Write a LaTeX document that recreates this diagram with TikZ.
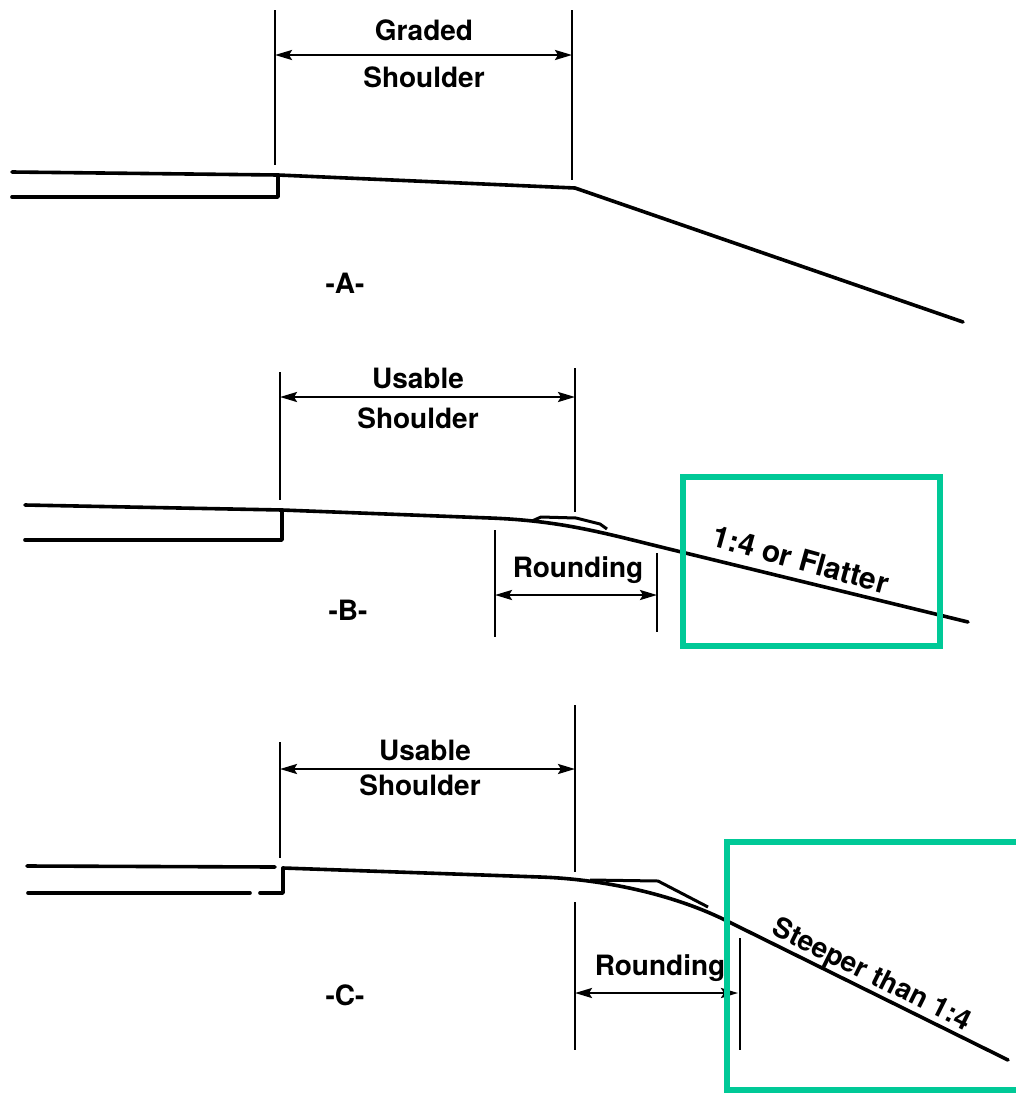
\documentclass[tikz,border=0pt]{standalone}
\usepackage{fontspec}
\setmainfont{TeX Gyre Heros}
\usetikzlibrary{arrows.meta}
\definecolor{boxgreen}{RGB}{0,201,151}
\begin{document}
\begin{tikzpicture}[x=1pt,y=-1pt,
  ground/.style={line width=3.6pt, line join=round, line cap=round},
  ext/.style={line width=2pt},
  dim/.style={line width=2.3pt, {Stealth[length=17pt,width=10pt,inset=3pt]}-{Stealth[length=17pt,width=10pt,inset=3pt]}},
  lbl/.style={font=\fontsize{28}{30}\selectfont\bfseries, inner sep=1pt},
  hl/.style={draw=boxgreen, line width=6pt}]
\useasboundingbox (0,0) rectangle (1016,1095);

% ---------------- A ----------------
\coordinate (a0) at (12,172);
\coordinate (a1) at (278,175);
\coordinate (a2) at (12,197);
\coordinate (a3) at (278,197);
\coordinate (a4) at (575,188);
\coordinate (a5) at (963,322);
\draw[ground] (a0) -- (a1) -- (a4) -- (a5);
\draw[ground] (a2) -- (a3) -- (a1);
\coordinate (eA1t) at (275,10);  \coordinate (eA1b) at (275,165);
\coordinate (eA2t) at (572,10);  \coordinate (eA2b) at (572,180);
\draw[ext] (eA1t) -- (eA1b);
\draw[ext] (eA2t) -- (eA2b);
\coordinate (dA1) at (275,55); \coordinate (dA2) at (572,55);
\draw[dim] (dA1) -- (dA2);
\node[lbl] (tA1) at (424,30) {Graded};
\node[lbl] (tA2) at (424,77) {Shoulder};
\node[lbl] (tA3) at (345,283) {-A-};

% ---------------- B ----------------
\coordinate (b0) at (25,505);
\coordinate (b1) at (282,510);
\coordinate (b2) at (25,540);
\coordinate (b3) at (282,540);
\coordinate (b4) at (490,518);
\coordinate (b5) at (665,548);
\coordinate (b6) at (968,622);
\draw[ground] (b0) -- (b1) -- (b4) .. controls (560,520.7) and (600,532) .. (b5) -- (b6);
\draw[ground] (b2) -- (b3) -- (b1);
\coordinate (l0) at (532,521); \coordinate (l1) at (541,517); \coordinate (l2) at (576,518);
\coordinate (l3) at (600,524); \coordinate (l4) at (607,529);
\draw[line width=3pt, line join=round] (l0) -- (l1) -- (l2) -- (l3) -- (l4);
\coordinate (eB1t) at (280,372); \coordinate (eB1b) at (280,500);
\coordinate (eB2t) at (575,368); \coordinate (eB2b) at (575,512);
\draw[ext] (eB1t) -- (eB1b);
\draw[ext] (eB2t) -- (eB2b);
\coordinate (dB1) at (280,397); \coordinate (dB2) at (575,397);
\draw[dim] (dB1) -- (dB2);
\node[lbl] (tB1) at (418,378) {Usable};
\node[lbl] (tB2) at (418,418) {Shoulder};
\coordinate (eB3t) at (495,530); \coordinate (eB3b) at (495,637);
\coordinate (eB4t) at (657,553); \coordinate (eB4b) at (657,632);
\draw[ext] (eB3t) -- (eB3b);
\draw[ext] (eB4t) -- (eB4b);
\coordinate (dB3) at (495,595); \coordinate (dB4) at (657,595);
\draw[dim] (dB3) -- (dB4);
\node[lbl] (tB3) at (578,570) {Rounding};
\node[lbl] (tB4) at (348,610) {-B-};
\node[lbl, font=\fontsize{30}{32}\selectfont\bfseries, anchor=south, rotate=-15.5, inner xsep=1pt, inner ysep=10pt] (tB5) at (795,580) {1:4 or Flatter};

% ---------------- C ----------------
\coordinate (c0) at (27,866);
\coordinate (c1) at (275,867);
\coordinate (c2) at (283,868);
\coordinate (c3) at (540,877);
\coordinate (c4) at (725,920);
\coordinate (c5) at (1008,1060);
\coordinate (c6) at (28,893);
\coordinate (c7) at (250,893);
\coordinate (c8) at (260,893);
\coordinate (c9) at (283,893);
\draw[ground] (c0) -- (c1);
\draw[ground] (c2) -- (c3) .. controls (600,879) and (670,893) .. (c4) -- (c5);
\draw[ground] (c6) -- (c7);
\draw[ground] (c8) -- (c9) -- (c2);
\coordinate (w0) at (590,880); \coordinate (w1) at (658,881); \coordinate (w2) at (708,907);
\draw[line width=3pt, line join=round] (w0) -- (w1) -- (w2);
\coordinate (eC1t) at (280,742); \coordinate (eC1b) at (280,858);
\coordinate (eC2t) at (575,705); \coordinate (eC2b) at (575,872);
\coordinate (eC3t) at (575,902); \coordinate (eC3b) at (575,1050);
\coordinate (eC4t) at (740,938); \coordinate (eC4b) at (740,1050);
\draw[ext] (eC1t) -- (eC1b);
\draw[ext] (eC2t) -- (eC2b);
\draw[ext] (eC3t) -- (eC3b);
\draw[ext] (eC4t) -- (eC4b);
\coordinate (dC1) at (280,769); \coordinate (dC2) at (575,769);
\draw[dim] (dC1) -- (dC2);
\coordinate (dC3) at (575,993); \coordinate (dC4) at (738,993);
\draw[dim] (dC3) -- (dC4);
\node[lbl] (tC1) at (425,750) {Usable};
\node[lbl] (tC2) at (420,785) {Shoulder};
\node[lbl] (tC3) at (660,968) {Rounding};
\node[lbl] (tC4) at (345,995) {-C-};
\node[lbl, anchor=south, rotate=-26.5] (tC5) at (865,989) {Steeper than 1:4};

% ---------------- highlight boxes ----------------
\coordinate (hB1) at (683,477); \coordinate (hB2) at (940,646);
\draw[hl] (hB1) rectangle (hB2);
\coordinate (hC1) at (1016,842); \coordinate (hC2) at (727,842);
\coordinate (hC3) at (727,1090); \coordinate (hC4) at (1016,1090);
\draw[hl, line join=miter] (hC1) -- (hC2) -- (hC3) -- (hC4);
\end{tikzpicture}
\end{document}
